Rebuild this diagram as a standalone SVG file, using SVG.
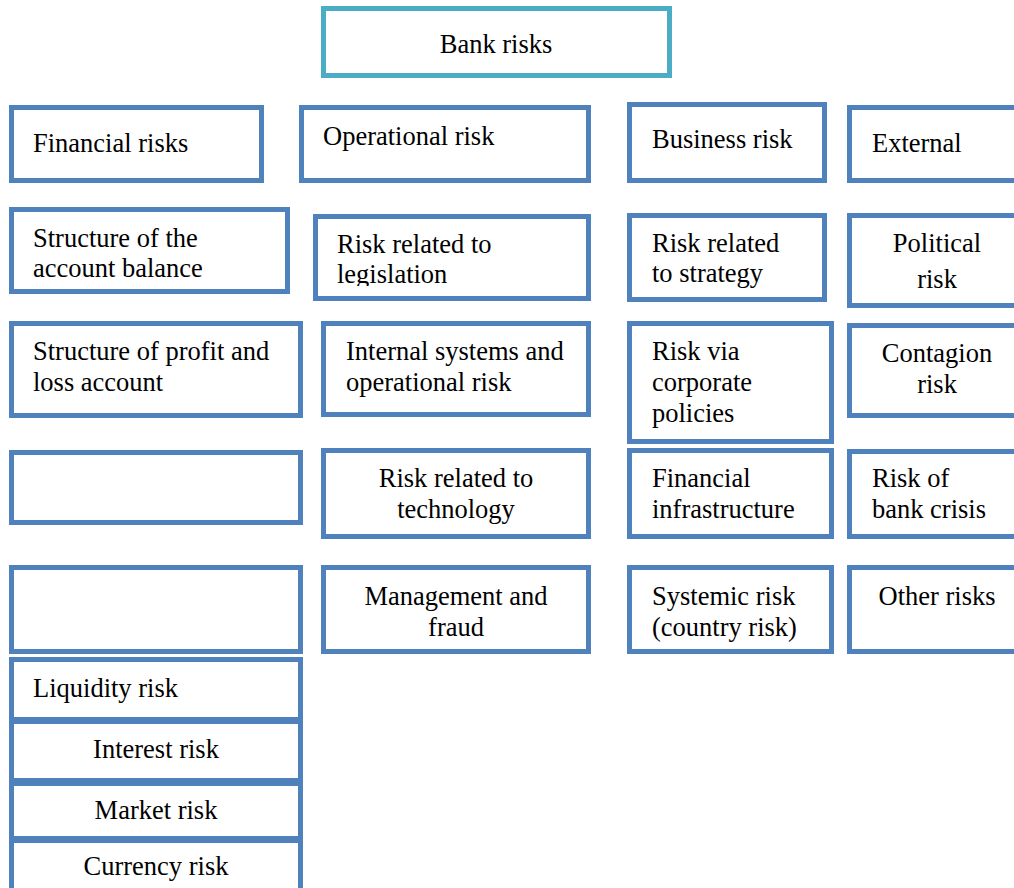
<svg xmlns="http://www.w3.org/2000/svg" width="1014" height="888" viewBox="0 0 1014 888">
<style>
.b{fill:#fff;stroke:#4F81BD;stroke-width:5}
.t{fill:#fff;stroke:#4BACC6;stroke-width:5}
text{font-family:"Liberation Serif","Times New Roman",serif;font-size:26.5px;fill:#000}
.m{text-anchor:middle}
</style>
<defs>
<clipPath id="clipLeg"><rect x="300" y="200" width="300" height="86"/></clipPath>
</defs>
<rect width="1014" height="888" fill="#fff"/>
<g id="connectors"></g>
<g id="bank-risks"><rect class="t" x="323.5" y="8.5" width="346" height="67"/><text class="m" transform="translate(496,53) scale(1,1.06)">Bank risks</text></g>

<g id="financial-risks"><rect class="b" x="11.5" y="107.5" width="250" height="73"/><text transform="translate(33,152) scale(1,1.06)">Financial risks</text></g>
<g id="operational-risk"><rect class="b" x="301.5" y="107.5" width="287" height="73"/><text transform="translate(323,145) scale(1,1.06)">Operational risk</text></g>
<g id="business-risk"><rect class="b" x="629.5" y="104.5" width="195" height="76"/><text transform="translate(652,148) scale(1,1.06)">Business risk</text></g>
<g id="external"><rect class="b" x="849.5" y="107.5" width="190" height="73"/><text transform="translate(872,152) scale(1,1.06)">External</text></g>

<g id="structure-balance"><rect class="b" x="11.5" y="209.5" width="276" height="82"/><text transform="translate(33,247) scale(1,1.06)"><tspan x="0" y="0">Structure of the</tspan><tspan x="0" y="28.3">account balance</tspan></text></g>
<g id="risk-legislation"><rect class="b" x="315.5" y="216.5" width="273" height="82"/><g clip-path="url(#clipLeg)"><text transform="translate(337,253.3) scale(1,1.06)"><tspan x="0" y="0">Risk related to</tspan><tspan x="0" y="28.3">legislation</tspan></text></g></g>
<g id="risk-strategy"><rect class="b" x="629.5" y="215.5" width="195" height="84"/><text transform="translate(652,252.3) scale(1,1.06)"><tspan x="0" y="0">Risk related</tspan><tspan x="0" y="28.3">to strategy</tspan></text></g>
<g id="political-risk"><rect class="b" x="849.5" y="215.5" width="190" height="90"/><text class="m" transform="translate(937,252.3) scale(1,1.06)"><tspan x="0" y="0">Political</tspan><tspan x="0" y="33.4">risk</tspan></text></g>

<g id="structure-pl"><rect class="b" x="11.5" y="323.5" width="289" height="92"/><text transform="translate(33,360) scale(1,1.06)"><tspan x="0" y="0">Structure of profit and</tspan><tspan x="0" y="29.2">loss account</tspan></text></g>
<g id="internal-systems"><rect class="b" x="323.5" y="323.5" width="265" height="91"/><text transform="translate(346,360) scale(1,1.06)"><tspan x="0" y="0">Internal systems and</tspan><tspan x="0" y="29.2">operational risk</tspan></text></g>
<g id="corporate-policies"><rect class="b" x="629.5" y="323.5" width="202" height="118"/><text transform="translate(652,360) scale(1,1.06)"><tspan x="0" y="0">Risk via</tspan><tspan x="0" y="29.2">corporate</tspan><tspan x="0" y="58.2">policies</tspan></text></g>
<g id="contagion-risk"><rect class="b" x="849.5" y="325.5" width="190" height="90"/><text class="m" transform="translate(937,361.7) scale(1,1.06)"><tspan x="0" y="0">Contagion</tspan><tspan x="0" y="29.2">risk</tspan></text></g>

<g id="empty-1"><rect class="b" x="11.5" y="452.5" width="289" height="70"/></g>
<g id="risk-technology"><rect class="b" x="323.5" y="450.5" width="265" height="86"/><text class="m" transform="translate(456,486.7) scale(1,1.06)"><tspan x="0" y="0">Risk related to</tspan><tspan x="0" y="29.2">technology</tspan></text></g>
<g id="financial-infrastructure"><rect class="b" x="629.5" y="450.5" width="202" height="86"/><text transform="translate(652,486.7) scale(1,1.06)"><tspan x="0" y="0">Financial</tspan><tspan x="0" y="29.2">infrastructure</tspan></text></g>
<g id="bank-crisis"><rect class="b" x="849.5" y="451.5" width="190" height="85"/><text transform="translate(872,486.7) scale(1,1.06)"><tspan x="0" y="0">Risk of</tspan><tspan x="0" y="29.2">bank crisis</tspan></text></g>

<g id="empty-2"><rect class="b" x="11.5" y="567.5" width="289" height="84"/></g>
<g id="management-fraud"><rect class="b" x="323.5" y="567.5" width="265" height="84"/><text class="m" transform="translate(456,605) scale(1,1.06)"><tspan x="0" y="0">Management and</tspan><tspan x="0" y="29.2">fraud</tspan></text></g>
<g id="systemic-risk"><rect class="b" x="629.5" y="567.5" width="202" height="84"/><text transform="translate(652,605) scale(1,1.06)"><tspan x="0" y="0">Systemic risk</tspan><tspan x="0" y="29.2">(country risk)</tspan></text></g>
<g id="other-risks"><rect class="b" x="849.5" y="567.5" width="190" height="84"/><text class="m" transform="translate(937,605) scale(1,1.06)">Other risks</text></g>

<g id="liquidity-risk"><rect class="b" x="11.5" y="659.5" width="289" height="60"/><text transform="translate(33,697) scale(1,1.06)">Liquidity risk</text></g>
<g id="interest-risk"><rect class="b" x="11.5" y="721.5" width="289" height="59"/><text class="m" transform="translate(156,758) scale(1,1.06)">Interest risk</text></g>
<g id="market-risk"><rect class="b" x="11.5" y="783.5" width="289" height="55"/><text class="m" transform="translate(156,819) scale(1,1.06)">Market risk</text></g>
<g id="currency-risk"><rect class="b" x="11.5" y="840.5" width="289" height="60"/><text class="m" transform="translate(156,875) scale(1,1.06)">Currency risk</text></g>
</svg>
